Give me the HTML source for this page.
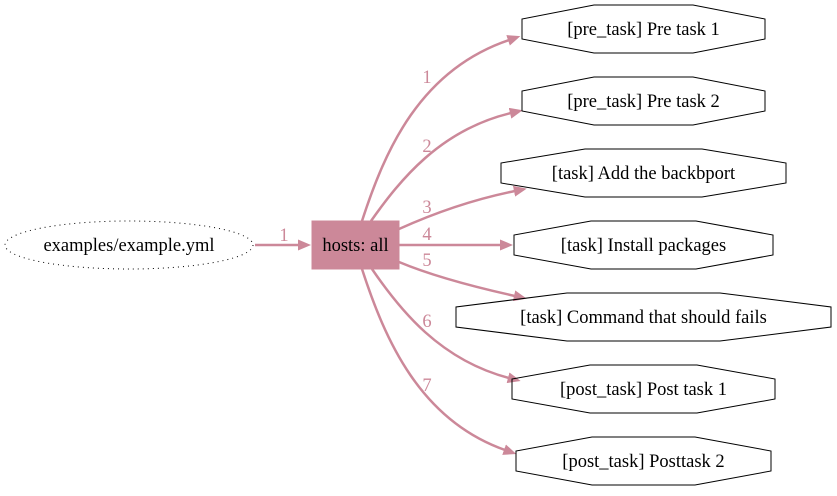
<!DOCTYPE html>
<html><head><meta charset="utf-8"><style>
html,body{margin:0;padding:0;background:#fff;}
svg text{font-family:"Liberation Serif",serif;}
</style></head><body>
<svg width="837" height="491" viewBox="0 0 837 491" xmlns="http://www.w3.org/2000/svg">
<defs>
<marker id="a" markerWidth="13" markerHeight="11" refX="1" refY="5.5" orient="auto" markerUnits="userSpaceOnUse" viewBox="0 0 13 11">
<path d="M0,0 L13,5.5 L0,11 Z" fill="#cc8899"/>
</marker>
</defs>
<ellipse cx="129" cy="245" rx="124" ry="24" fill="none" stroke="#000" stroke-dasharray="1,4"/>
<text x="129" y="251" font-size="18.5" text-anchor="middle">examples/example.yml</text>
<g stroke="#cc8899" stroke-width="2.5" fill="none" marker-end="url(#a)">
<path d="M255,245 L299,245"/>
<path d="M362,221 C385,150 420,70 509,40"/>
<path d="M371,221 C400,180 440,130 511,113"/>
<path d="M399,229 C430,215 470,200 515,191"/>
<path d="M399,245 L501,245"/>
<path d="M399,262 C430,275 470,286 515,296"/>
<path d="M372,269 C400,310 440,360 509,378"/>
<path d="M362,269 C385,340 420,420 505,450"/>
</g>
<g fill="#cc8899" font-size="18.5" text-anchor="middle">
<text x="284" y="241">1</text>
<text x="427" y="83">1</text>
<text x="427" y="152">2</text>
<text x="427" y="213">3</text>
<text x="427" y="240">4</text>
<text x="427" y="266">5</text>
<text x="427" y="327">6</text>
<text x="427" y="391">7</text>
</g>
<rect x="312" y="221" width="87" height="48" fill="#cc8899" stroke="#cc8899"/>
<text x="355.5" y="251" font-size="18.5" text-anchor="middle">hosts: all</text>
<g fill="none" stroke="#000">
<polygon points="594,5 693,5 765,19 765,39 693,53 594,53 522,39 522,19"/>
<polygon points="594,77 693,77 765,91 765,111 693,125 594,125 522,111 522,91"/>
<polygon points="585,149 702,149 786,163 786,183 702,197 585,197 501,183 501,163"/>
<polygon points="591,221 696,221 773,235 773,255 696,269 591,269 514,255 514,235"/>
<polygon points="567,293 720,293 831,307 831,327 720,341 567,341 456,327 456,307"/>
<polygon points="590,365 697,365 775,379 775,399 697,413 590,413 512,399 512,379"/>
<polygon points="592,437 695,437 771,451 771,471 695,485 592,485 516,471 516,451"/>
</g>
<g font-size="18.5" text-anchor="middle" fill="#000">
<text x="643.5" y="35">[pre_task] Pre task 1</text>
<text x="643.5" y="107">[pre_task] Pre task 2</text>
<text x="643.5" y="179">[task] Add the backbport</text>
<text x="643.5" y="251">[task] Install packages</text>
<text x="643.5" y="323">[task] Command that should fails</text>
<text x="643.5" y="395">[post_task] Post task 1</text>
<text x="643.5" y="467">[post_task] Posttask 2</text>
</g>
</svg>
</body></html>
